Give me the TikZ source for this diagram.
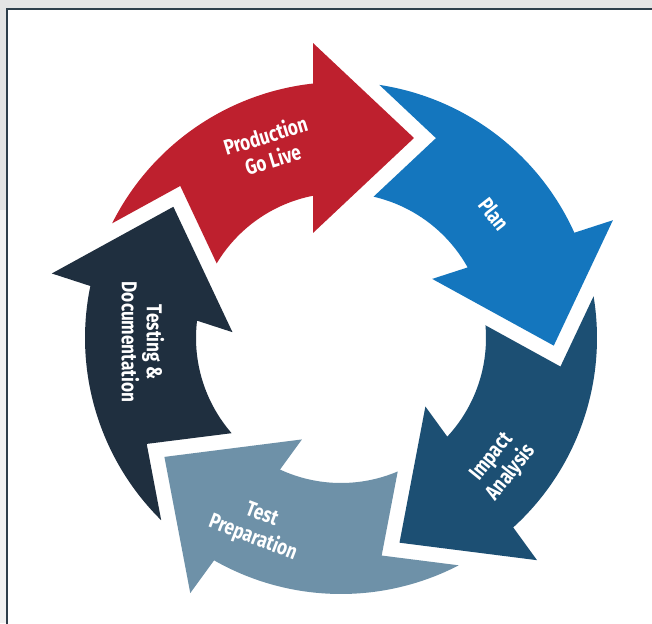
\documentclass[tikz,border=0pt]{standalone}
\usepackage{fontspec}
\newfontfamily\labfont[FakeStretch=0.8]{Fira Sans}
\definecolor{cRed}{HTML}{BE202E}
\definecolor{cBlue}{HTML}{1476BE}
\definecolor{cImpact}{HTML}{1C4F73}
\definecolor{cPrep}{HTML}{6E91A8}
\definecolor{cTest}{HTML}{1F2F3F}
\definecolor{bggray}{HTML}{E4E4E4}
\definecolor{bglight}{HTML}{F1F1F1}
\definecolor{framecol}{HTML}{2E3E4A}
\tikzset{
  lab/.style={text=white, font=\labfont\bfseries\fontsize{21.5}{25}\selectfont, align=center, inner sep=0pt},
}
\begin{document}
\begin{tikzpicture}[x=1pt,y=1pt]
\useasboundingbox (0,0) rectangle (652,-623);
\clip (0,0) rectangle (652,-623);
\fill[white] (0,0) rectangle (652,-623);
\fill[bggray] (0,0) rectangle (652,-8);
\fill[bggray] (0,0) rectangle (6,-210);
\fill[bglight] (0,-210) rectangle (6,-623);
\draw[framecol, line width=2pt] (7,-9) rectangle (680,-660);
\begin{scope}[shift={(341,-338)}]
\foreach \k/\col in {0/cRed,1/cBlue,2/cImpact,3/cPrep,4/cTest}{
  \pgfmathsetmacro\o{-72*\k}
  \fill[\col] ({\o+69.95}:212.9) -- ({\o+95.42}:296.3) -- ({\o+96.28}:256)
    arc[start angle={\o+96.28}, end angle={\o+153.38}, radius=256]
    -- ({\o+136.59}:221.3) -- ({\o+149.03}:145)
    arc[start angle={\o+149.03}, end angle={\o+101.13}, radius=145]
    -- ({\o+104.93}:108.7) -- cycle;
}
\end{scope}
\node[lab, rotate=17] (prod) at (269,-147) {Production\\Go Live};
\node[lab, rotate=-52] (plan) at (494,-214) {Plan};
\node[lab, rotate=51] (impact) at (502,-465) {Impact\\Analysis};
\node[lab, rotate=-21] (prep) at (257,-527) {Test\\Preparation};
\node[lab, rotate=-90] (testdoc) at (143,-342) {Testing \&\\Documentation};
\end{tikzpicture}
\end{document}
